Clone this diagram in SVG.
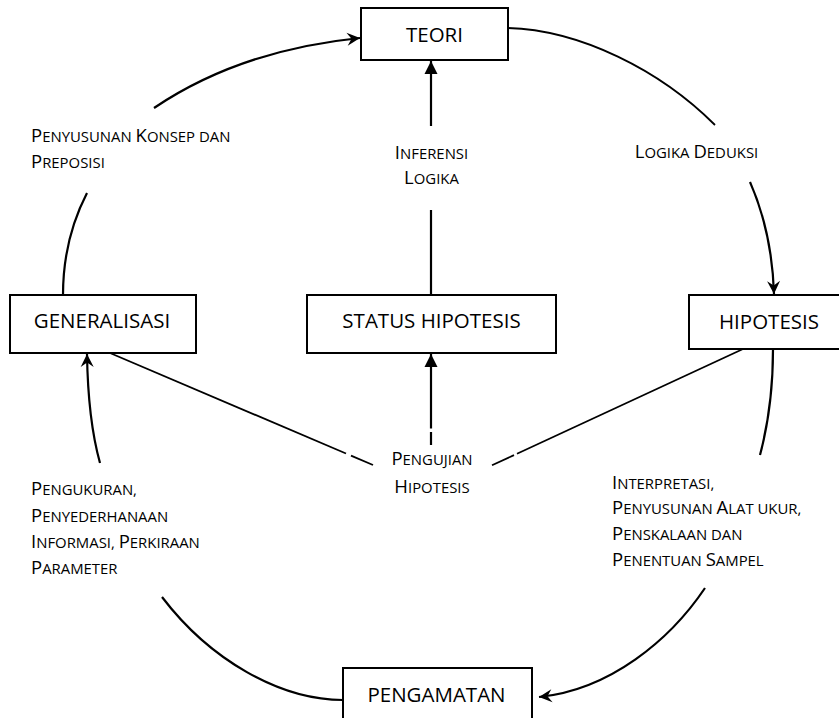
<svg xmlns="http://www.w3.org/2000/svg" width="839" height="718" viewBox="0 0 839 718">
<style>
  .box { fill: #ffffff; stroke: #000000; stroke-width: 2; }
  .bl { font-family: "Open Sans", "DejaVu Sans", sans-serif; font-size: 20.5px; fill: #000000; text-anchor: middle; }
  .lbl { font-family: "Open Sans", "DejaVu Sans", sans-serif; font-size: 14.9px; fill: #000000; text-transform: uppercase; }
  .mid { text-anchor: middle; }
  .cap { font-size: 18.5px; }
  .ln { fill: none; stroke: #000000; stroke-width: 2.2; }
  .thin { stroke-width: 1.8; }
</style>
<defs>
  <marker id="stealth" markerUnits="userSpaceOnUse" markerWidth="16" markerHeight="16" viewBox="-14 -8 16 16" refX="0" refY="0" orient="auto">
    <path d="M0,0 L-13,-6.5 L-8.5,0 L-13,6.5 Z" fill="#000000"/>
  </marker>
  <marker id="tri" markerUnits="userSpaceOnUse" markerWidth="16" markerHeight="16" viewBox="-14 -8 16 16" refX="0" refY="0" orient="auto">
    <path d="M0,0 L-13,-6.5 L-13,6.5 Z" fill="#000000"/>
  </marker>
</defs>

<g id="connectors">
  <!-- Generalisasi -> Teori -->
  <path class="ln" d="M63,295 C63,255 72,222 87,193"/>
  <path class="ln" d="M154,108 Q240,50 360,38" marker-end="url(#stealth)"/>
  <!-- Teori -> Hipotesis -->
  <path class="ln thin" d="M508,28 C580,30 660,70 715,125"/>
  <path class="ln" d="M750,182 Q772,232 774,294" marker-end="url(#stealth)"/>
  <!-- Status Hipotesis -> Teori -->
  <path class="ln" d="M431,295 L431,210"/>
  <path class="ln" d="M431,126 L431,61" marker-end="url(#tri)"/>
  <!-- Pengujian -> Status Hipotesis -->
  <path class="ln" d="M431,445 L431,432"/>
  <path class="ln" d="M431,428.5 L431,354" marker-end="url(#tri)"/>
  <!-- Pengujian - Generalisasi -->
  <path class="ln thin" d="M110,353 L346,453.5"/>
  <path class="ln thin" d="M351,455.6 L373,465"/>
  <!-- Pengujian - Hipotesis -->
  <path class="ln thin" d="M743,349 L517,453.7"/>
  <path class="ln thin" d="M514,455.1 L492,465.3"/>
  <!-- Hipotesis -> Pengamatan -->
  <path class="ln" d="M773,349 C773,390 768,425 760,455"/>
  <path class="ln" d="M705,588 C670,640 610,690 539,697" marker-end="url(#stealth)"/>
  <!-- Pengamatan -> Generalisasi -->
  <path class="ln" d="M343,700 C280,700 210,660 162,597"/>
  <path class="ln" d="M100,463 Q88,420 87,354" marker-end="url(#stealth)"/>
</g>

<g id="node-teori">
  <rect class="box" x="361" y="8" width="147" height="52"/>
  <text class="bl" x="434.5" y="42">TEORI</text>
</g>
<g id="node-generalisasi">
  <rect class="box" x="10" y="295" width="186" height="58"/>
  <text class="bl" x="102" y="328">GENERALISASI</text>
</g>
<g id="node-status-hipotesis">
  <rect class="box" x="307" y="295" width="249" height="58"/>
  <text class="bl" x="431.5" y="328">STATUS HIPOTESIS</text>
</g>
<g id="node-hipotesis">
  <rect class="box" x="689" y="295" width="170" height="54"/>
  <text class="bl" x="769" y="329">HIPOTESIS</text>
</g>
<g id="node-pengamatan">
  <rect class="box" x="343" y="668" width="189" height="70"/>
  <text class="bl" x="436.5" y="702">PENGAMATAN</text>
</g>

<g id="labels">
  <text class="lbl" x="31" y="142"><tspan class="cap">P</tspan>enyusunan <tspan class="cap">K</tspan>onsep dan</text>
  <text class="lbl" x="31" y="168"><tspan class="cap">P</tspan>reposisi</text>

  <text class="lbl mid" x="431.5" y="158.5"><tspan class="cap">I</tspan>nferensi</text>
  <text class="lbl mid" x="431.5" y="183.5"><tspan class="cap">L</tspan>ogika</text>

  <text class="lbl mid" x="696.5" y="157.5"><tspan class="cap">L</tspan>ogika <tspan class="cap">D</tspan>eduksi</text>

  <text class="lbl mid" x="432" y="465"><tspan class="cap">P</tspan>engujian</text>
  <text class="lbl mid" x="432" y="493"><tspan class="cap">H</tspan>ipotesis</text>

  <text class="lbl" x="31" y="495"><tspan class="cap">P</tspan>engukuran,</text>
  <text class="lbl" x="31" y="521.5"><tspan class="cap">P</tspan>enyederhanaan</text>
  <text class="lbl" x="31" y="548"><tspan class="cap">I</tspan>nformasi, <tspan class="cap">P</tspan>erkiraan</text>
  <text class="lbl" x="31" y="574"><tspan class="cap">P</tspan>arameter</text>

  <text class="lbl" x="612" y="488.5"><tspan class="cap">I</tspan>nterpretasi,</text>
  <text class="lbl" x="612" y="514.2"><tspan class="cap">P</tspan>enyusunan <tspan class="cap">A</tspan>lat ukur,</text>
  <text class="lbl" x="612" y="540"><tspan class="cap">P</tspan>enskalaan dan</text>
  <text class="lbl" x="612" y="565.6"><tspan class="cap">P</tspan>enentuan <tspan class="cap">S</tspan>ampel</text>
</g>
</svg>
